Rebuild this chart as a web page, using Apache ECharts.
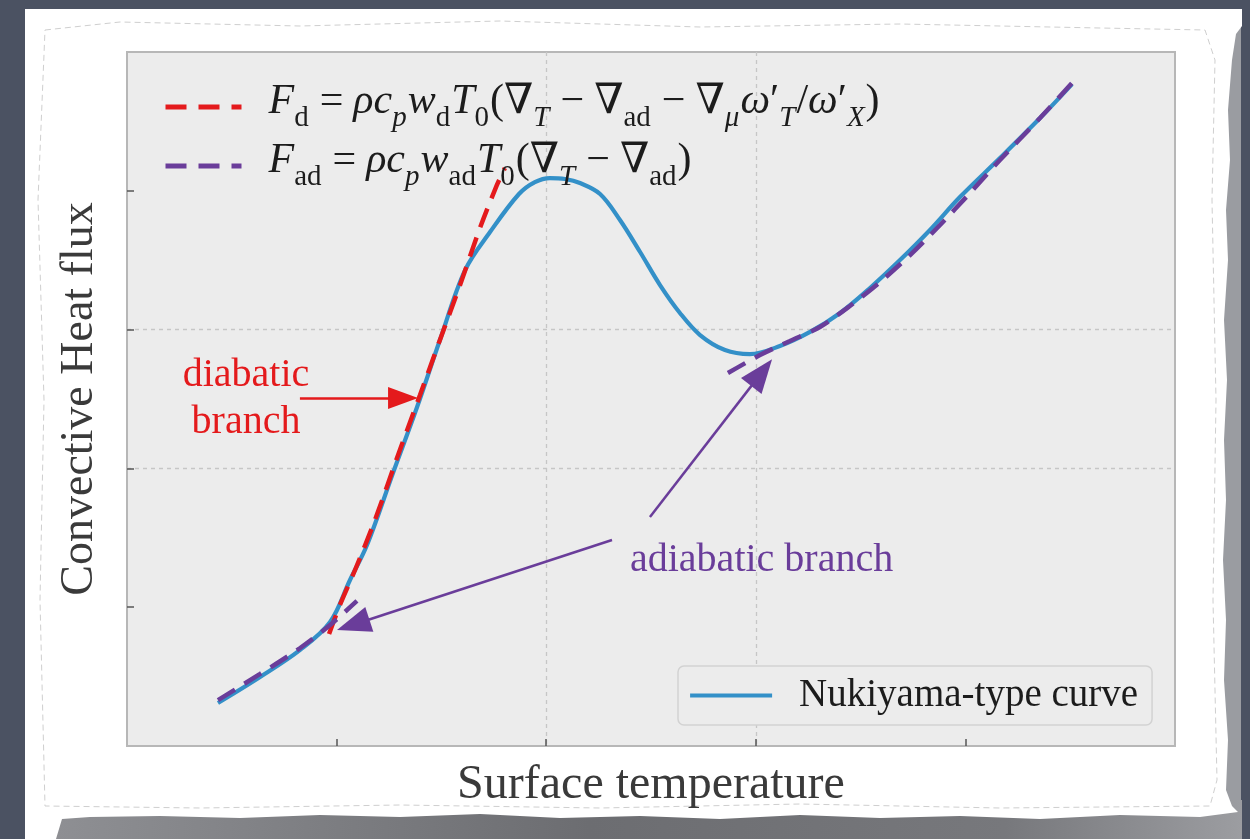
<!DOCTYPE html>
<html>
<head>
<meta charset="utf-8">
<script src="https://cdn.jsdelivr.net/npm/echarts@6/dist/echarts.min.js"></script>
<style>
  html, body { margin: 0; padding: 0; background: #4b5262; }
  #chart { width: 1250px; height: 839px; }
</style>
</head>
<body>
<div id="chart"></div>
<script>
// Nukiyama-type boiling curve: surface temperature (T) vs convective heat flux (F), arbitrary units
const nukiyamaT = [0.434, 0.635, 0.826, 0.969, 1.064, 1.145, 1.269, 1.384, 1.493, 1.613, 1.732, 1.870, 1.946, 2.018,
                   2.090, 2.161, 2.257, 2.352, 2.448, 2.543, 2.638, 2.734, 2.853, 2.972, 3.115, 3.259, 3.402, 3.545,
                   3.688, 3.831, 3.974, 4.165, 4.356, 4.509];
const nukiyamaF = [0.310, 0.497, 0.692, 0.893, 1.196, 1.448, 1.967, 2.442, 2.925, 3.429, 3.703, 3.977, 4.063, 4.092,
                   4.085, 4.056, 3.977, 3.790, 3.559, 3.321, 3.120, 2.961, 2.853, 2.824, 2.882, 2.983, 3.120, 3.300,
                   3.501, 3.718, 3.955, 4.236, 4.524, 4.769];

// Diabatic branch
const diabaticT = [0.964, 1.016, 1.088, 1.183, 1.302, 1.398, 1.493, 1.589, 1.684, 1.765, 1.803];
const diabaticF = [0.807, 1.016, 1.268, 1.628, 2.133, 2.529, 2.925, 3.321, 3.732, 4.042, 4.164];

// Adiabatic branch (low and high segments, separated by a gap)
const adiabaticT = [0.434, 0.635, 0.826, 0.969, 1.097, null,
                    2.867, 3.020, 3.163, 3.306, 3.449, 3.593, 3.736, 3.879, 4.022, 4.165, 4.356, 4.509];
const adiabaticF = [0.331, 0.519, 0.706, 0.872, 1.045, null,
                    2.687, 2.817, 2.918, 3.019, 3.170, 3.343, 3.537, 3.754, 3.984, 4.222, 4.524, 4.777];

// Axis ticks (no tick labels are drawn)
const tickValues = [1, 2, 3, 4];

// Annotation arrows in data coordinates: [tail, head]
const diabaticArrow = [[0.825, 2.507], [1.317, 2.507]];
const adiabaticArrows = [
  [[2.495, 1.650], [3.028, 2.690]],
  [[2.314, 1.484], [1.079, 0.874]]
];

const zip = (xs, ys) => xs.map((x, i) => (x === null ? [null, null] : [x, ys[i]]));

const SERIF = '"Liberation Serif", "DejaVu Serif", serif';
const RED = '#e41a1c';
const PURPLE = '#6a3d9a';
const BLUE = '#3390c8';
const INK = '#1c1c1c';

const FS = 42;
const SUB = 29;
const LH = 50;
const rich = {
  i:  { fontFamily: SERIF, fontStyle: 'italic', fontSize: FS, color: INK, verticalAlign: 'top', lineHeight: LH },
  r:  { fontFamily: SERIF, fontSize: FS, color: INK, verticalAlign: 'top', lineHeight: LH },
  op: { fontFamily: SERIF, fontSize: FS, color: INK, verticalAlign: 'top', lineHeight: LH, padding: [0, 10, 0, 10] },
  si: { fontFamily: SERIF, fontStyle: 'italic', fontSize: SUB, color: INK, verticalAlign: 'top', padding: [23, 1, 0, 0] },
  sr: { fontFamily: SERIF, fontSize: SUB, color: INK, verticalAlign: 'top', padding: [23, 1, 0, 0] },
  gap: { width: 22, verticalAlign: 'top', lineHeight: LH }
};

const formulas = {
  'Fd': '{gap|}{i|F}{sr|d}{op|=}{i|ρc}{si|p}{i|w}{sr|d}{i|T}{sr|0}{r|(∇}{si|T}{op|−}{r|∇}{sr|ad}{op|−}{r|∇}{si|μ}{i|ω}{r|′}{si|T}{r|/}{i|ω}{r|′}{si|X}{r|)}',
  'Fad': '{gap|}{i|F}{sr|ad}{op|=}{i|ρc}{si|p}{i|w}{sr|ad}{i|T}{sr|0}{r|(∇}{si|T}{op|−}{r|∇}{sr|ad}{r|)}'
};

// Torn paper card behind the plot
const paperEdge = [
  [25, 9], [1242, 9], [1242, 26], [1236, 34], [1232, 60], [1228, 110], [1230, 160], [1226, 210], [1228, 260],
  [1224, 320], [1227, 380], [1224, 440], [1226, 500], [1223, 560], [1226, 620], [1224, 680], [1228, 740],
  [1226, 790], [1232, 806], [1238, 812],
  [1200, 817], [1120, 815], [1040, 819], [960, 816], [880, 818], [800, 815], [720, 819], [640, 816],
  [560, 818], [480, 814], [400, 817], [320, 815], [240, 818], [160, 816], [90, 817], [62, 819],
  [56, 839], [25, 839]
];
const paperOutline = [
  [45, 30], [120, 22], [300, 26], [500, 21], [700, 27], [900, 24], [1100, 28], [1205, 30], [1215, 60],
  [1212, 200], [1216, 400], [1213, 600], [1217, 780], [1210, 806], [1000, 808], [800, 804], [600, 808],
  [400, 805], [200, 808], [45, 806], [40, 600], [44, 400], [38, 200], [45, 30]
];

const chart = echarts.init(document.getElementById('chart'), null, { renderer: 'canvas' });

const axisCommon = {
  type: 'value', min: 0, max: 5, interval: 1,
  axisLabel: { show: false },
  axisLine: { show: false },
  axisTick: { show: true, inside: true, length: 7, customValues: tickValues, lineStyle: { color: '#555', width: 1.5 } },
  splitLine: { show: true, showMinLine: false, showMaxLine: false, lineStyle: { color: '#c6c6c6', type: [4, 4], width: 1.3 } },
  nameLocation: 'middle'
};

chart.setOption({
  backgroundColor: '#4b5262',
  animation: false,
  graphic: [
    { type: 'rect', z: -100, shape: { x: 1215, y: 26, width: 26, height: 800 }, style: { fill: '#9a9ca1' }, silent: true },
    { type: 'rect', z: -100, shape: { x: 56, y: 800, width: 1186, height: 39 },
      style: { fill: new echarts.graphic.LinearGradient(0, 0, 1, 0, [
        { offset: 0, color: '#8e8f93' }, { offset: 0.45, color: '#6c6d71' },
        { offset: 0.8, color: '#77787c' }, { offset: 1, color: '#9c9da1' }]) }, silent: true },
    { type: 'polygon', z: -90, shape: { points: paperEdge }, style: { fill: '#ffffff' }, silent: true },
    { type: 'polyline', z: -80, shape: { points: paperOutline }, style: { stroke: '#cfcfcf', lineWidth: 1, lineDash: [6, 4], fill: null }, silent: true },
    { type: 'text', z: 100, x: 246, y: 352,
      style: { text: 'diabatic\nbranch', fontFamily: SERIF, fontSize: 40, lineHeight: 47, fill: RED, align: 'center' } },
    { type: 'text', z: 100, x: 630, y: 540,
      style: { text: 'adiabatic branch', fontFamily: SERIF, fontSize: 40, fill: PURPLE } }
  ],
  grid: {
    left: 127, top: 52, width: 1048, height: 694,
    show: true, backgroundColor: '#ececec', borderColor: '#b7b7b7', borderWidth: 2
  },
  xAxis: Object.assign({}, axisCommon, {
    name: 'Surface temperature', nameGap: 15,
    nameTextStyle: { fontFamily: SERIF, color: '#3a3a3a', fontSize: 48 }
  }),
  yAxis: Object.assign({}, axisCommon, {
    name: 'Convective Heat flux', nameGap: 24,
    nameTextStyle: { fontFamily: SERIF, color: '#3a3a3a', fontSize: 46 }
  }),
  legend: [
    {
      data: ['Fd', 'Fad'], orient: 'vertical', left: 158, top: 76,
      itemWidth: 76, itemHeight: 14, itemGap: 7, selectedMode: false,
      itemStyle: { opacity: 0 },
      lineStyle: { width: 5, type: [21, 12] },
      formatter: name => formulas[name],
      textStyle: { rich: rich }
    },
    {
      data: ['Nukiyama-type curve'], left: 678, top: 666,
      padding: [10, 14, 10, 10], itemWidth: 82, itemHeight: 14, selectedMode: false,
      backgroundColor: '#ececec', borderColor: '#d2d2d2', borderWidth: 1.5, borderRadius: 6,
      itemStyle: { opacity: 0 },
      lineStyle: { width: 4.2 },
      formatter: name => '{n|' + name + '}',
      textStyle: { rich: { n: { fontFamily: SERIF, fontSize: 39, color: INK, padding: [0, 0, 0, 22] } } }
    }
  ],
  series: [
    {
      name: 'Nukiyama-type curve', type: 'line', data: zip(nukiyamaT, nukiyamaF), smooth: 0.35,
      showSymbol: false, symbol: 'none', z: 2,
      lineStyle: { color: BLUE, width: 4.2 }, itemStyle: { color: BLUE }
    },
    {
      name: 'Fd', type: 'line', data: zip(diabaticT, diabaticF), smooth: 0.3,
      showSymbol: false, symbol: 'none', z: 3,
      lineStyle: { color: RED, width: 4.5, type: [20, 11] }, itemStyle: { color: RED },
      markLine: {
        silent: true, symbol: ['none', 'triangle'], symbolSize: [22, 30], label: { show: false },
        lineStyle: { color: RED, width: 2.5, type: 'solid' },
        data: [[{ coord: diabaticArrow[0] }, { coord: diabaticArrow[1] }]]
      }
    },
    {
      name: 'Fad', type: 'line', data: zip(adiabaticT, adiabaticF), smooth: 0.3, connectNulls: false,
      showSymbol: false, symbol: 'none', z: 3,
      lineStyle: { color: PURPLE, width: 4.5, type: [20, 11] }, itemStyle: { color: PURPLE },
      markLine: {
        silent: true, symbol: ['none', 'triangle'], symbolSize: [26, 34], label: { show: false },
        lineStyle: { color: PURPLE, width: 2.5, type: 'solid' },
        data: adiabaticArrows.map(a => [{ coord: a[0] }, { coord: a[1] }])
      }
    }
  ]
});
</script>
</body>
</html>
